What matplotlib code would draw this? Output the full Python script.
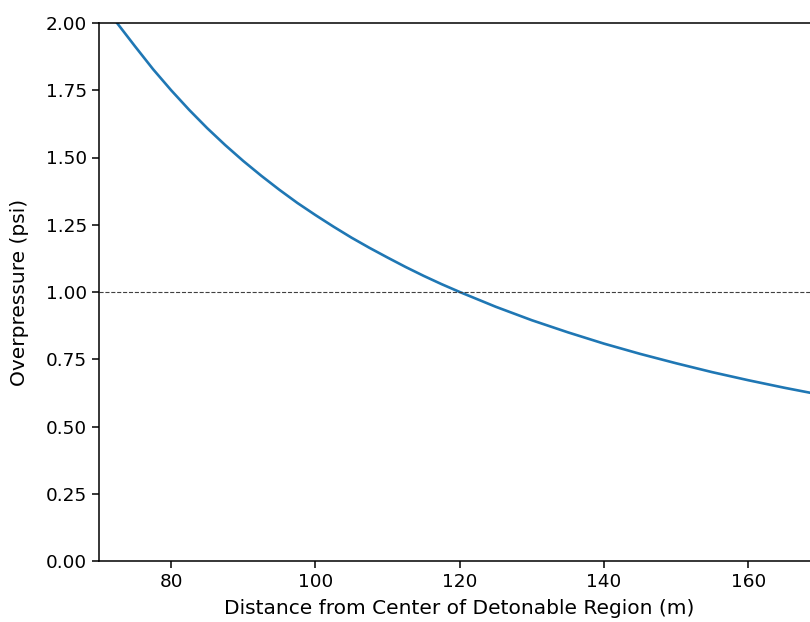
import matplotlib
matplotlib.use("Agg")
import matplotlib.pyplot as plt

# distance (m) vs overpressure (psi)
distance = [70, 72.5, 75, 77.5, 80, 82.5, 85, 87.5, 90, 92.5, 95, 97.5, 100,
            102.5, 105, 107.5, 110, 112.5, 115, 117.5, 120, 125, 130, 135,
            140, 145, 150, 155, 160, 165, 170, 175, 180]
overpressure = [2.10, 2.00, 1.913, 1.828, 1.750, 1.677, 1.609, 1.546, 1.487,
                1.432, 1.380, 1.331, 1.286, 1.243, 1.202, 1.164, 1.128,
                1.093, 1.060, 1.029, 1.000, 0.945, 0.895, 0.850, 0.808,
                0.770, 0.735, 0.702, 0.672, 0.644, 0.618, 0.594, 0.572]
threshold = 1.0

plt.rcParams['font.size'] = 13.3

fig = plt.figure(figsize=(8.1, 6.22), dpi=100)
# axes run past the right edge, as in the cropped original
ax = fig.add_axes([99 / 810, 61 / 622, 793.6 / 810, 538 / 622])

ax.plot(distance, overpressure, color='#1f77b4', lw=1.9)
ax.axhline(threshold, color='0.25', ls='--', lw=0.8)

ax.set_xlim(70, 180)
ax.set_ylim(0, 2)
ax.set_xticks([80, 100, 120, 140, 160])
ax.set_yticks([0, 0.25, 0.5, 0.75, 1.0, 1.25, 1.5, 1.75, 2.0])
for s in ax.spines.values():
    s.set_linewidth(1.1)
ax.tick_params(length=5, width=1.1)
ax.set_xlabel('Distance from Center of Detonable Region (m)', fontsize=14.5)
ax.set_ylabel('Overpressure (psi)', fontsize=14.5)
ax.xaxis.set_label_coords((459 - 99) / 793.6, -0.0705)
ax.yaxis.set_label_coords((29 - 99) / 793.6, 0.5)

fig.savefig('out.png', dpi=100)
